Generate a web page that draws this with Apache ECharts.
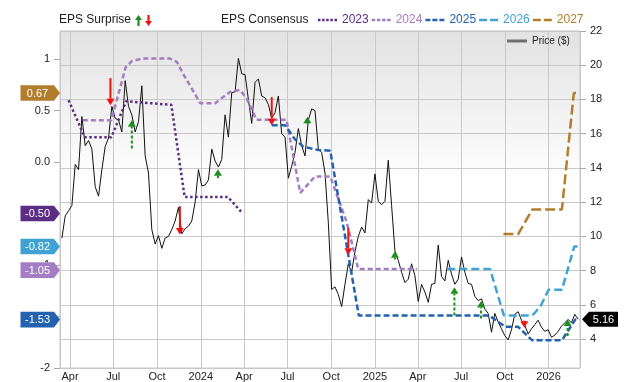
<!DOCTYPE html>
<html><head><meta charset="utf-8">
<script src="https://cdn.jsdelivr.net/npm/echarts@6/dist/echarts.min.js"></script>
<style>html,body{margin:0;padding:0;background:#fff}#c{width:640px;height:382px}</style>
</head><body><div id="c"></div>
<script>
const FONT = "'Liberation Sans', Arial, sans-serif";

// ---- data ----
const priceStart = '2023-03-15'; // weekly closes
const priceValues = [
  9.9, 11.2, 11.5, 11.8, 14.2, 13.9, 17.0, 15.3, 15.6, 15.1,
  12.9, 12.35, 13.9, 15.25, 15.75, 17.6, 16.9, 16.8, 16.1, 19.1,
  17.6, 17.1, 16.1, 16.7, 18.8, 14.7, 13.7, 10.4, 9.55, 10.05,
  9.3, 9.9, 10.0, 10.4, 10.9, 11.7, 10.15, 10.45, 10.6, 10.9,
  12.0, 13.9, 12.95, 13.0, 13.3, 15.1, 14.4, 14.05, 14.5, 17.1,
  15.8, 18.4, 18.45, 20.4, 19.5, 19.45, 18.0, 16.6, 19.0, 19.2,
  18.2, 18.1, 17.7, 16.9, 17.25, 18.2, 16.0, 15.8, 13.4, 14.1,
  14.9, 16.3, 15.3, 14.7, 16.8, 17.45, 17.35, 15.1, 14.9, 13.7,
  10.8, 6.9, 7.05, 6.6, 5.9, 7.2, 8.4, 7.9, 9.1, 10.0,
  10.55, 10.2, 12.15, 11.95, 13.65, 12.05, 11.85, 12.05, 14.45, 11.8,
  9.15, 8.6, 7.9, 7.3, 7.5, 8.4, 7.7, 6.2, 7.2, 6.75,
  6.15, 7.2, 7.25, 9.5, 7.65, 7.4, 8.6, 7.8, 7.2, 7.5,
  8.8, 7.9, 7.25, 7.2, 6.5, 6.25, 6.35, 5.75, 5.5, 4.4,
  5.5, 5.0, 4.6, 4.2, 3.95, 4.55, 5.45, 5.6, 5.1, 4.8,
  4.3, 4.6, 4.85, 5.1, 4.7, 4.45, 4.55, 4.1, 4.23, 4.45,
  4.75, 4.95, 5.15, 4.95, 5.45, 5.16
];
const lastPrice = 5.16;

const c2023Dates = ['2023-03-29','2023-05-02','2023-06-27','2023-07-28','2023-10-31','2023-11-28','2024-02-27','2024-03-29'];
const c2023Vals  = [0.60, 0.24, 0.24, 0.59, 0.555, -0.34, -0.34, -0.50];

const c2024Dates = ['2023-04-28','2023-06-27','2023-07-27','2023-08-09','2023-09-01','2023-10-28','2023-11-12','2023-11-25','2023-12-31','2024-01-31','2024-03-02','2024-03-23','2024-04-06','2024-04-27','2024-06-29','2024-07-28','2024-08-28','2024-09-29','2024-11-03','2024-11-27','2025-03-30'];
const c2024Vals  = [0.405, 0.405, 0.92, 0.98, 1.005, 1.005, 0.97, 0.855, 0.57, 0.57, 0.68, 0.70, 0.62, 0.41, 0.41, -0.30, -0.14, -0.14, -0.59, -1.04, -1.04];

const c2025Dates = ['2024-05-29','2024-06-26','2024-07-17','2024-08-03','2024-09-04','2024-09-29','2024-11-28','2025-08-29','2025-10-02','2025-10-29','2025-11-27','2026-01-29','2026-02-26','2026-03-07'];
const c2025Vals  = [0.357, 0.357, 0.22, 0.15, 0.116, 0.11, -1.49, -1.49, -1.60, -1.60, -1.73, -1.73, -1.53, -1.53];

const c2026Dates = ['2025-06-02','2025-08-31','2025-09-29','2025-11-28','2025-12-15','2026-01-01','2026-01-29','2026-02-24','2026-03-07'];
const c2026Vals  = [-1.04, -1.04, -1.49, -1.49, -1.40, -1.24, -1.24, -0.82, -0.82];

const c2027Dates = ['2025-09-28','2025-10-29','2025-11-28','2026-01-29','2026-02-23','2026-03-06'];
const c2027Vals  = [-0.70, -0.70, -0.46, -0.46, 0.67, 0.67];

const surpriseDates = ['2023-06-25','2023-08-09','2023-11-18','2024-02-06','2024-05-29','2024-08-12','2024-11-06','2025-02-12','2025-06-17','2025-08-12','2025-11-11','2026-02-10'];
const surpriseFrom  = [0.815, 0.13, -0.43, -0.157, 0.63, 0.37, -0.64, -0.946, -1.49, -1.52, -1.54, -1.69];
const surpriseTo    = [0.55, 0.405, -0.705, -0.07, 0.357, 0.44, -0.90, -0.866, -1.215, -1.35, -1.61, -1.53];

const yearNames   = ['2023','2024','2025','2026','2027'];
const badgeLabels = ['0.67','-0.50','-0.82','-1.05','-1.53'];
const badgeValues = [0.67, -0.50, -0.82, -1.05, -1.53];
const badgeYears  = ['2027','2023','2026','2024','2025'];

const xMin = '2023-03-11', xMax = '2026-03-08';
const monthNames = ['Jan','Feb','Mar','Apr','May','Jun','Jul','Aug','Sep','Oct','Nov','Dec'];

// ---- styles ----
const yearColor = {'2023':'#5c2d84','2024':'#a47ec4','2025':'#2262ae','2026':'#40a2d3','2027':'#b27d2c'};
const yearDash  = {'2023':[2.5,2.5],'2024':[5,3],'2025':[6,3],'2026':[8,4],'2027':[10,4]};
// legend icons: little dashed strokes (19 x 2.5 box)
const yearIcon = {
  '2023': 'path://M0,0h2.5v2.5h-2.5z M4.1,0h2.5v2.5h-2.5z M8.2,0h2.5v2.5h-2.5z M12.3,0h2.5v2.5h-2.5z M16.5,0h2.5v2.5h-2.5z',
  '2024': 'path://M0,0h3.5v2.5h-3.5z M5.2,0h3.5v2.5h-3.5z M10.4,0h3.5v2.5h-3.5z M15.5,0h3.5v2.5h-3.5z',
  '2025': 'path://M0,0h5v2.5h-5z M7,0h5v2.5h-5z M14,0h5v2.5h-5z',
  '2026': 'path://M0,0h8v2.5h-8z M11,0h8v2.5h-8z',
  '2027': 'path://M0,0h8v2.5h-8z M11,0h8v2.5h-8z'
};
const GREEN = '#1b8f1b', RED = '#ee1111';

const DAY = 86400000;
const t0 = new Date(priceStart + 'T00:00:00').getTime();
const priceData = priceValues.map((v, i) => [t0 + i * 7 * DAY, v]);
const lastDate = priceData[priceData.length - 1][0];

const cons = {
  '2023': c2023Dates.map((d, i) => [d, c2023Vals[i]]),
  '2024': c2024Dates.map((d, i) => [d, c2024Vals[i]]),
  '2025': c2025Dates.map((d, i) => [d, c2025Vals[i]]),
  '2026': c2026Dates.map((d, i) => [d, c2026Vals[i]]),
  '2027': c2027Dates.map((d, i) => [d, c2027Vals[i]])
};

const beatData = [], missData = [];
surpriseDates.forEach((d, i) => {
  const item = [d, surpriseFrom[i], surpriseTo[i]];
  if (surpriseTo[i] > surpriseFrom[i]) beatData.push(item); else missData.push(item);
});

function arrowRender(color, dashed) {
  return function (params, api) {
    const p0 = api.coord([api.value(0), api.value(1)]);
    const p1 = api.coord([api.value(0), api.value(2)]);
    const dir = p1[1] > p0[1] ? 1 : -1;
    const hh = 6.5, hw = 4;
    const base = p1[1] - dir * hh;
    return {
      type: 'group', children: [
        { type: 'line', shape: { x1: p0[0], y1: p0[1], x2: p0[0], y2: base },
          style: { stroke: color, lineWidth: 2, lineDash: dashed ? [3, 2] : null } },
        { type: 'polygon', shape: { points: [[p1[0] - hw, base], [p1[0] + hw, base], [p1[0], p1[1]]] },
          style: { fill: color } }
      ]
    };
  };
}

function badgeRender(params, api) {
  const i = params.dataIndex;
  const y = api.coord([api.value(0), api.value(1)])[1];
  const x = params.coordSys.x;
  const c = yearColor[badgeYears[i]];
  return {
    type: 'group', children: [
      { type: 'polygon', shape: { points: [[x - 39.5, y - 7.8], [x - 6, y - 7.8], [x, y], [x - 6, y + 7.8], [x - 39.5, y + 7.8]] },
        style: { fill: c } },
      { type: 'text', style: { text: badgeLabels[i], x: x - 22.5, y: y + 0.5, align: 'center', verticalAlign: 'middle',
        fill: '#fff', font: '11px ' + FONT } }
    ]
  };
}

function priceBadgeRender(params, api) {
  const y = api.coord([api.value(0), api.value(1)])[1];
  const x = params.coordSys.x + params.coordSys.width;
  return {
    type: 'group', children: [
      { type: 'polygon', shape: { points: [[x + 2, y], [x + 9, y - 7.5], [x + 38, y - 7.5], [x + 38, y + 7.5], [x + 9, y + 7.5]] },
        style: { fill: '#000' } },
      { type: 'text', style: { text: lastPrice.toFixed(2), x: x + 23.5, y: y + 0.5, align: 'center', verticalAlign: 'middle',
        fill: '#fff', font: '11px ' + FONT } }
    ]
  };
}

const upPath = 'path://M3.5,0 L7,5 L4.6,5 L4.6,11 L2.4,11 L2.4,5 L0,5 Z';
const downPath = 'path://M2.4,0 L4.6,0 L4.6,6 L7,6 L3.5,11 L0,6 L2.4,6 Z';

const series = [
  { name: 'Price ($)', type: 'line', yAxisIndex: 1, data: priceData, symbol: 'none',
    lineStyle: { color: '#111', width: 1 }, itemStyle: { color: '#111' }, z: 2 }
];
yearNames.forEach(y => {
  series.push({ name: y, type: 'line', yAxisIndex: 0, data: cons[y], symbol: 'none',
    lineStyle: { color: yearColor[y], width: 2.5, type: yearDash[y] }, itemStyle: { color: yearColor[y] }, z: 3 });
});
series.push({ name: 'EPS beat', type: 'custom', yAxisIndex: 0, data: beatData, renderItem: arrowRender(GREEN, true),
  itemStyle: { color: GREEN }, z: 5, clip: false });
series.push({ name: 'EPS miss', type: 'custom', yAxisIndex: 0, data: missData, renderItem: arrowRender(RED, false),
  itemStyle: { color: RED }, z: 5, clip: false });
series.push({ name: 'badges', type: 'custom', yAxisIndex: 0, data: badgeValues.map(v => [xMin, v]),
  renderItem: badgeRender, clip: false, z: 10, silent: true });
series.push({ name: 'lastPrice', type: 'custom', yAxisIndex: 1, data: [[lastDate, lastPrice]],
  renderItem: priceBadgeRender, clip: false, z: 10, silent: true });

const option = {
  animation: false,
  textStyle: { fontFamily: FONT },
  title: [
    { text: 'EPS Surprise', left: 59, top: 14, padding: 0, textStyle: { fontSize: 12, fontWeight: 'normal', color: '#222', fontFamily: FONT } },
    { text: 'EPS Consensus', left: 221, top: 14, padding: 0, textStyle: { fontSize: 12, fontWeight: 'normal', color: '#222', fontFamily: FONT } }
  ],
  legend: [
    { data: yearNames.map(y => ({ name: y, icon: yearIcon[y], itemStyle: { color: yearColor[y] }, textStyle: { color: yearColor[y] } })),
      left: 318, top: 14, itemWidth: 19, itemHeight: 2.5, itemGap: 3, padding: 0, selectedMode: false,
      textStyle: { fontSize: 12, fontFamily: FONT } },
    { data: [{ name: 'EPS beat', icon: upPath }], left: 135, top: 15, itemWidth: 7, itemHeight: 11, padding: 0,
      selectedMode: false, formatter: () => '' },
    { data: [{ name: 'EPS miss', icon: downPath }], left: 145, top: 15, itemWidth: 7, itemHeight: 11, padding: 0,
      selectedMode: false, formatter: () => '' },
    { data: [{ name: 'Price ($)', icon: 'rect', itemStyle: { color: '#707070' } }], left: 507, top: 36, itemWidth: 20, itemHeight: 3,
      padding: 0, selectedMode: false, textStyle: { fontSize: 10, color: '#222', fontFamily: FONT } }
  ],
  grid: { left: 60, right: 60, top: 31, bottom: 12, show: true, borderColor: '#c6c6c6', borderWidth: 1,
    backgroundColor: new echarts.graphic.LinearGradient(0, 0, 0, 1, [
      { offset: 0, color: '#e2e2e2' }, { offset: 0.45, color: '#ffffff' }, { offset: 1, color: '#ffffff' }]) },
  xAxis: {
    type: 'time', min: xMin, max: xMax, splitNumber: 12,
    axisLine: { show: false }, axisTick: { show: false },
    axisLabel: { fontSize: 11, color: '#222', fontFamily: FONT, margin: 3, showMinLabel: false, showMaxLabel: false,
      formatter: v => { const d = new Date(v); return d.getMonth() === 0 ? String(d.getFullYear()) : monthNames[d.getMonth()]; } },
    splitLine: { show: true, lineStyle: { color: '#c8c8c8', width: 1 } }
  },
  yAxis: [
    { type: 'value', position: 'left', min: -2, max: 1.272, interval: 0.5,
      axisLine: { show: false }, axisTick: { show: true, length: 6, lineStyle: { color: '#aaa' } },
      axisLabel: { fontSize: 11, color: '#222', fontFamily: FONT, margin: 10, showMaxLabel: false,
        formatter: v => (v === 0 ? '0.0' : String(v)) },
      splitLine: { show: false } },
    { type: 'value', position: 'right', min: 2.31, max: 22, splitNumber: 10, minInterval: 2, maxInterval: 2,
      axisLine: { show: false }, axisTick: { show: true, length: 6, lineStyle: { color: '#aaa' } },
      axisLabel: { fontSize: 11, color: '#222', fontFamily: FONT, margin: 10, showMinLabel: false },
      splitLine: { show: true, lineStyle: { color: '#c8c8c8', width: 1 } } }
  ],
  series: series
};

const chart = echarts.init(document.getElementById('c'), null, { renderer: 'canvas' });
chart.setOption(option);
</script>
</body></html>
